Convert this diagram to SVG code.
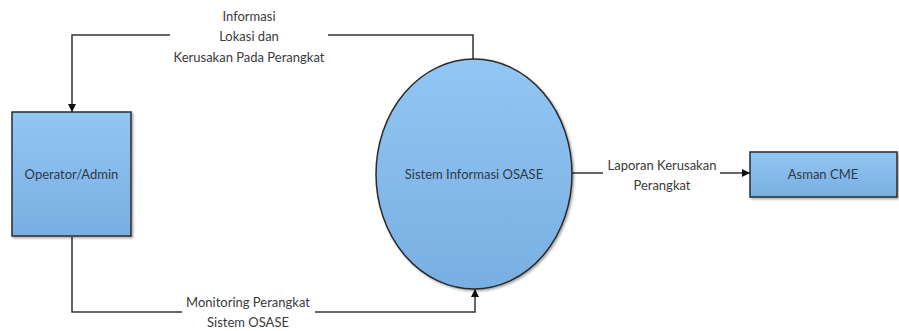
<svg xmlns="http://www.w3.org/2000/svg" width="899" height="331" viewBox="0 0 899 331">
<style>
.shape{stroke:#2b2b2b;stroke-width:1.5;fill:url(#g);filter:url(#sh)}
.lbl{font-family:Lato,"Open Sans","Liberation Sans",sans-serif;font-size:13px;fill:#3a3a3a;text-anchor:middle;dominant-baseline:central}
.nlbl{font-family:Lato,"Open Sans","Liberation Sans",sans-serif;font-size:13px;fill:#2e3a48;text-anchor:middle;dominant-baseline:central}
.con{fill:none;stroke:#333;stroke-width:1.5}
</style>
<defs>
<linearGradient id="g" x1="0" y1="0" x2="0" y2="1">
<stop offset="0" stop-color="#92c6f3"/>
<stop offset="1" stop-color="#78afe2"/>
</linearGradient>
<filter id="sh" x="-10%" y="-10%" width="130%" height="130%">
<feDropShadow dx="1.5" dy="1.5" stdDeviation="1" flood-color="#000" flood-opacity="0.35"/>
</filter>
<marker id="arr" viewBox="0 0 10 10" refX="10" refY="5" markerWidth="8" markerHeight="8" markerUnits="userSpaceOnUse" orient="auto">
<path d="M0,0 L10,5 L0,10 z" fill="#111"/>
</marker>
</defs>
<g id="connectors">
<path class="con" d="M473,59 V35 H328 M170,35 H72 V112" marker-end="url(#arr)"/>
<path class="con" d="M72,237 V312 H182 M315,312 H475 V289" marker-end="url(#arr)"/>
<path class="con" d="M572,173 H603 M720,173 H750" marker-end="url(#arr)"/>
<text class="lbl" x="249" y="16">Informasi</text>
<text class="lbl" x="249" y="36">Lokasi dan</text>
<text class="lbl" x="249" y="57">Kerusakan Pada Perangkat</text>
<text class="lbl" x="248" y="302">Monitoring Perangkat</text>
<text class="lbl" x="248" y="322">Sistem OSASE</text>
<text class="lbl" x="662" y="165">Laporan Kerusakan</text>
<text class="lbl" x="662" y="185">Perangkat</text>
</g>
<g id="operator">
<rect class="shape" x="12" y="112" width="119" height="124"/>
<text class="nlbl" x="71.5" y="174">Operator/Admin</text>
</g>
<g id="sistem">
<ellipse class="shape" cx="474" cy="174" rx="98" ry="115"/>
<text class="nlbl" x="474" y="174">Sistem Informasi OSASE</text>
</g>
<g id="asman">
<rect class="shape" x="750" y="152" width="147" height="45"/>
<text class="nlbl" x="823" y="174">Asman CME</text>
</g>
</svg>
